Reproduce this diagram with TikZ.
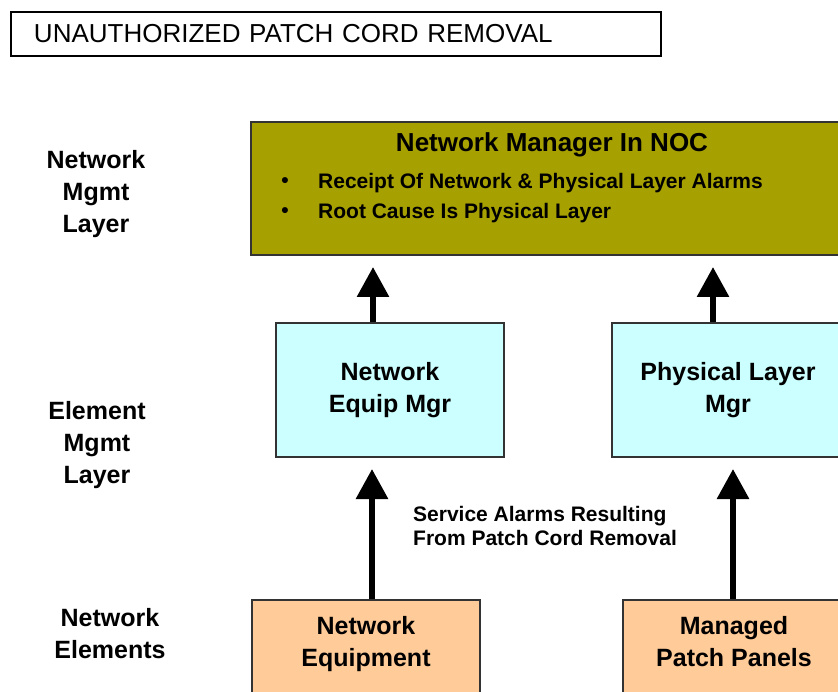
\documentclass[tikz,border=0pt]{standalone}
\usepackage{fontspec}
\setmainfont{Liberation Sans}
\usepackage{tikz}
\usetikzlibrary{arrows.meta,positioning,calc}
\definecolor{NocOlive}{HTML}{A6A000}
\definecolor{MgrCyan}{HTML}{CCFFFF}
\definecolor{ElemPeach}{HTML}{FFCC99}
\definecolor{EdgeGray}{HTML}{333333}

\begin{document}
\begin{tikzpicture}[x=1pt,y=-1pt,
		box/.style={draw=EdgeGray,line width=2pt,rectangle,anchor=north west,align=center,font=\fontsize{25}{32}\selectfont\bfseries},
		sidelabel/.style={align=center,font=\fontsize{25}{32}\selectfont\bfseries},
		smalltext/.style={font=\fontsize{21}{24}\selectfont\bfseries},
		uparrow/.style={line width=6pt,-{Triangle[length=30pt,width=31pt]},shorten >=11pt}]
		\useasboundingbox (0,0) rectangle (838,692);
		\clip (0,0) rectangle (838,692);
		\fill[white] (0,0) rectangle (838,692);
		\node[draw=black,line width=2pt,rectangle,anchor=north west,minimum width=650,minimum height=44,text width=604,inner xsep=23,align=left,font=\fontsize{26}{30}\selectfont] (title) at (10,11) {UNAUTHORIZED PATCH CORD REMOVAL};
		\node[box,fill=NocOlive,minimum width=600,minimum height=133] (noc) at (250,121) {};
		\node[font=\fontsize{26}{30}\selectfont\bfseries] (noctitle) at (552,145) {Network Manager In NOC};
		\node[smalltext] (dota) at (285,183) {\textbullet};
		\node[smalltext,anchor=west,inner sep=0pt] (itema) at (318,183) {Receipt Of Network \& Physical Layer Alarms};
		\node[smalltext] (dotb) at (285,213) {\textbullet};
		\node[smalltext,anchor=west,inner sep=0pt] (itemb) at (318,213) {Root Cause Is Physical Layer};
		\node[box,fill=MgrCyan,minimum width=228,minimum height=134] (eqmgr) at (275,322) {Network\\Equip Mgr};
		\node[box,fill=MgrCyan,minimum width=232,minimum height=134] (plmgr) at (611,322) {Physical Layer\\Mgr};
		\node[box,fill=ElemPeach,minimum width=228,minimum height=100,text depth=18pt] (neteq) at (251,599) {Network\\Equipment};
		\node[box,fill=ElemPeach,minimum width=222,minimum height=100,text depth=18pt] (mpp) at (622,599) {Managed\\Patch Panels};
		\node[sidelabel] (mgmtlayer) at (96,194) {Network\\Mgmt\\Layer};
		\node[sidelabel] (elemlayer) at (97,445) {Element\\Mgmt\\Layer};
		\node[sidelabel] (netelems) at (110,634) {Network\\Elements};
		\node[smalltext,anchor=west,align=left,inner sep=0pt] (svc) at (413,526) {Service Alarms Resulting\\From Patch Cord Removal};
		\coordinate (equp) at ([xshift=-17pt]eqmgr.north);
		\coordinate (plup) at ([xshift=-15pt]plmgr.north);
		\coordinate (nequp) at ([xshift=6pt]neteq.north);
		\coordinate (mppup) at ([xshift=-1pt]mpp.north);
		\draw[uparrow] (equp) -- (equp |- noc.south);
		\draw[uparrow] (plup) -- (plup |- noc.south);
		\draw[uparrow] (nequp) -- (nequp |- eqmgr.south);
		\draw[uparrow] (mppup) -- (mppup |- plmgr.south);
	\end{tikzpicture}
\end{document}
